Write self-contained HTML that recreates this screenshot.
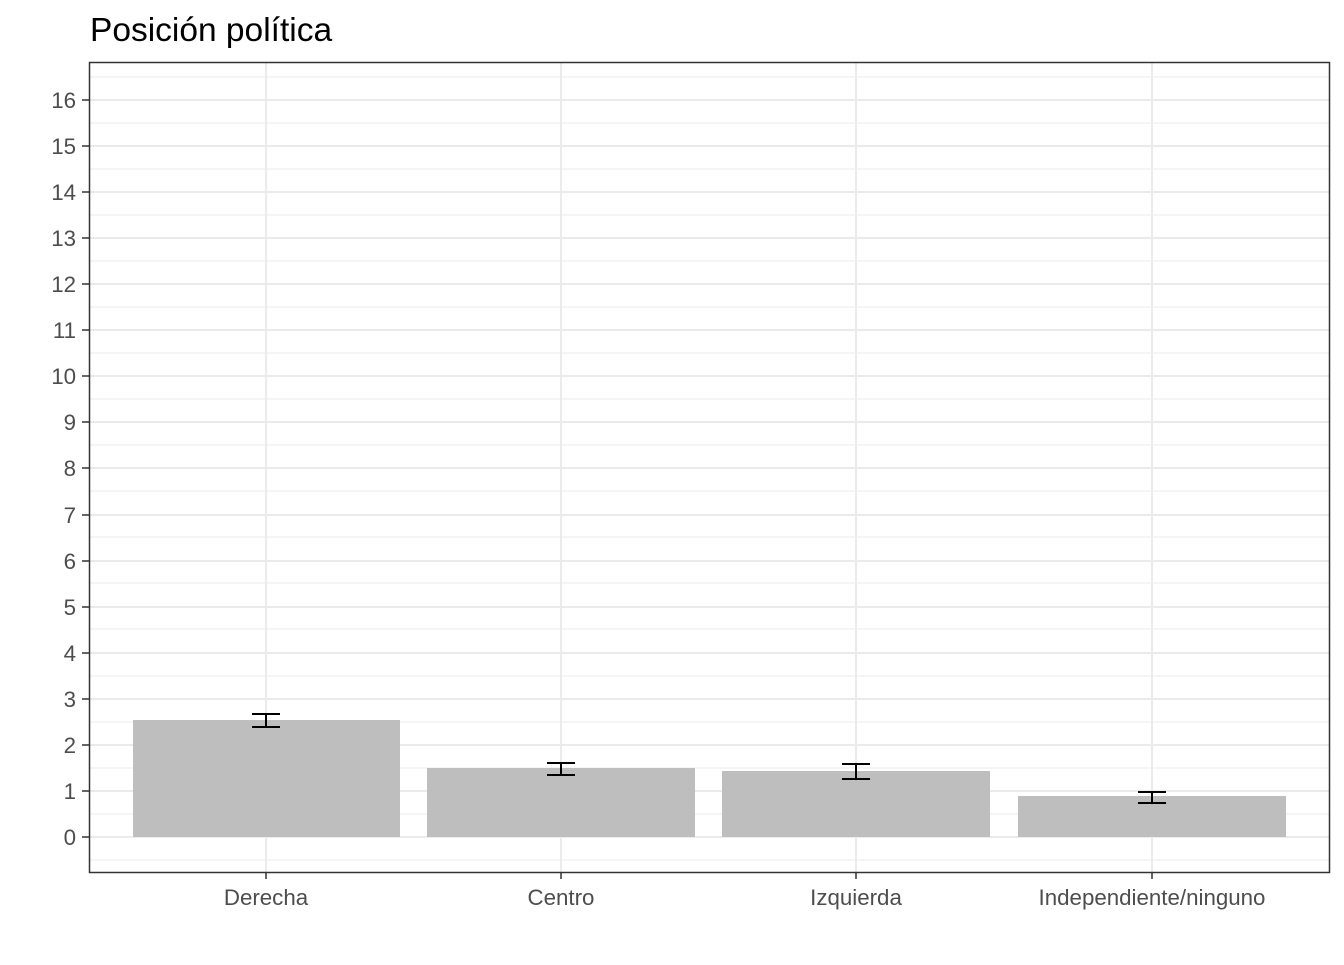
<!DOCTYPE html>
<html><head><meta charset="utf-8"><style>body{margin:0;background:#fff}</style></head><body>
<svg width="1344" height="960" xmlns="http://www.w3.org/2000/svg" font-family="Liberation Sans, sans-serif">
<rect width="1344" height="960" fill="#fff"/>
<text x="90" y="41" font-size="33.5" fill="#000">Posición política</text>
<g stroke="#ebebeb" stroke-width="1">
<line x1="89" x2="1329" y1="860" y2="860"/>
<line x1="89" x2="1329" y1="814" y2="814"/><line x1="89" x2="1329" y1="768" y2="768"/><line x1="89" x2="1329" y1="722" y2="722"/><line x1="89" x2="1329" y1="676" y2="676"/><line x1="89" x2="1329" y1="629" y2="629"/><line x1="89" x2="1329" y1="583" y2="583"/><line x1="89" x2="1329" y1="537" y2="537"/><line x1="89" x2="1329" y1="491" y2="491"/><line x1="89" x2="1329" y1="445" y2="445"/><line x1="89" x2="1329" y1="399" y2="399"/><line x1="89" x2="1329" y1="353" y2="353"/><line x1="89" x2="1329" y1="307" y2="307"/><line x1="89" x2="1329" y1="261" y2="261"/><line x1="89" x2="1329" y1="215" y2="215"/><line x1="89" x2="1329" y1="169" y2="169"/><line x1="89" x2="1329" y1="123" y2="123"/><line x1="89" x2="1329" y1="77" y2="77"/>
</g>
<g stroke="#ebebeb" stroke-width="2">
<line x1="89" x2="1329" y1="837" y2="837"/><line x1="89" x2="1329" y1="791" y2="791"/><line x1="89" x2="1329" y1="745" y2="745"/><line x1="89" x2="1329" y1="699" y2="699"/><line x1="89" x2="1329" y1="653" y2="653"/><line x1="89" x2="1329" y1="607" y2="607"/><line x1="89" x2="1329" y1="561" y2="561"/><line x1="89" x2="1329" y1="515" y2="515"/><line x1="89" x2="1329" y1="468" y2="468"/><line x1="89" x2="1329" y1="422" y2="422"/><line x1="89" x2="1329" y1="376" y2="376"/><line x1="89" x2="1329" y1="330" y2="330"/><line x1="89" x2="1329" y1="284" y2="284"/><line x1="89" x2="1329" y1="238" y2="238"/><line x1="89" x2="1329" y1="192" y2="192"/><line x1="89" x2="1329" y1="146" y2="146"/><line x1="89" x2="1329" y1="100" y2="100"/>
<line x1="266" x2="266" y1="62" y2="872"/><line x1="561" x2="561" y1="62" y2="872"/><line x1="856" x2="856" y1="62" y2="872"/><line x1="1152" x2="1152" y1="62" y2="872"/>
</g>
<g fill="#bebebe">
<rect x="133" y="720" width="267" height="117"/>
<rect x="427" y="768" width="268" height="69"/>
<rect x="722" y="771" width="268" height="66"/>
<rect x="1018" y="796" width="268" height="41"/>
</g>
<g stroke="#000" stroke-width="2" fill="none">
<path d="M252 714H280M266 714V727M252 727H280"/>
<path d="M547 763H575M561 763V775M547 775H575"/>
<path d="M842 764H870M856 764V779M842 779H870"/>
<path d="M1138 792H1166M1152 792V803M1138 803H1166"/>
</g>
<rect x="89.5" y="62.5" width="1240" height="810" fill="none" stroke="#333" stroke-width="1.5"/>
<g stroke="#333" stroke-width="1.5">
<path d="M82 837H89M82 791H89M82 745H89M82 699H89M82 653H89M82 607H89M82 561H89M82 515H89M82 468H89M82 422H89M82 376H89M82 330H89M82 284H89M82 238H89M82 192H89M82 146H89M82 100H89"/>
<path d="M266 872V879M561 872V879M856 872V879M1152 872V879"/>
</g>
<g font-size="22.3" fill="#4d4d4d" text-anchor="end">
<text x="76" y="845">0</text><text x="76" y="799">1</text><text x="76" y="753">2</text><text x="76" y="707">3</text><text x="76" y="661">4</text><text x="76" y="615">5</text><text x="76" y="569">6</text><text x="76" y="523">7</text><text x="76" y="476">8</text><text x="76" y="430">9</text><text x="76" y="384">10</text><text x="76" y="338">11</text><text x="76" y="292">12</text><text x="76" y="246">13</text><text x="76" y="200">14</text><text x="76" y="154">15</text><text x="76" y="108">16</text>
</g>
<g font-size="22.3" fill="#4d4d4d" text-anchor="middle">
<text x="266" y="905">Derecha</text><text x="561" y="905">Centro</text><text x="856" y="905">Izquierda</text><text x="1152" y="905">Independiente/ninguno</text>
</g>
</svg>
</body></html>
